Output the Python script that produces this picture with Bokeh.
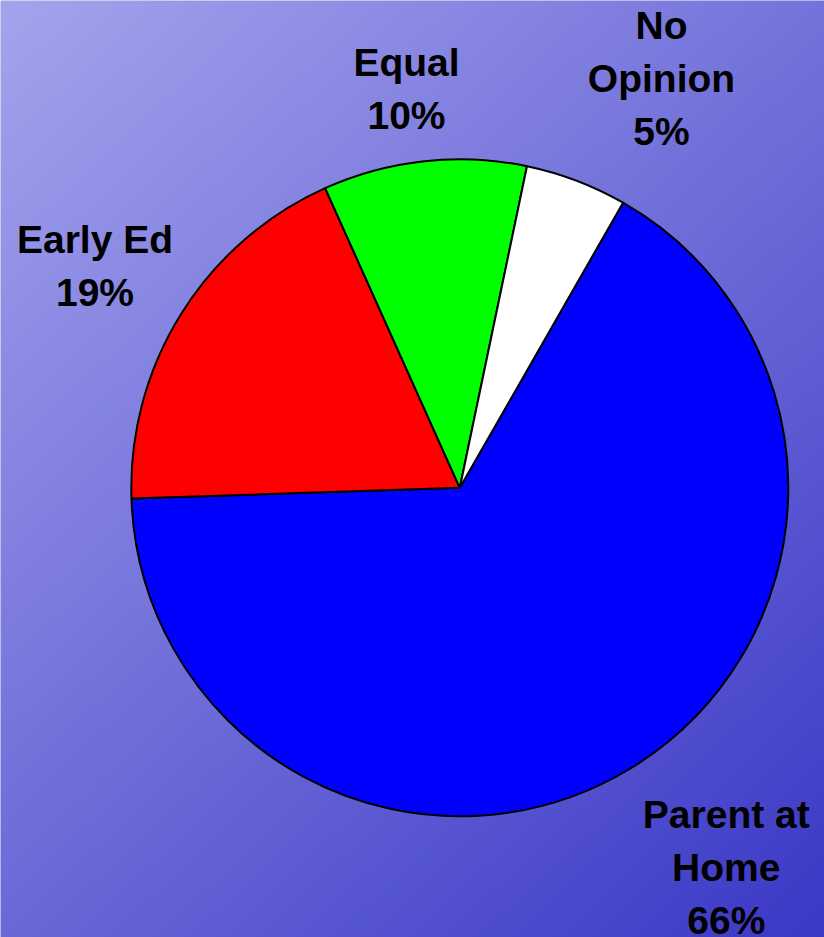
import numpy as np
from bokeh.plotting import figure
from bokeh.models import Range1d, ColumnDataSource
from bokeh.core.properties import value
from bokeh.embed import file_html
from bokeh.resources import INLINE

# ---- data ----
categories = ["Parent at\nHome", "Early Ed", "Equal", "No\nOpinion"]
shares = [66.2, 18.8, 10.0, 5.0]
slice_colors = ["#0000FF", "#FF0000", "#00FF00", "#FFFFFF"]

# ---- layout / style ----
W, H = 824, 937
CX, CY, R = 459.3, H - 487.3, 328.5
START_DEG = 60.2          # first slice starts here, slices run clockwise
FONT = "Liberation Sans"
FONT_PX = 39
LINE_SP = 53
TEXT_SHIFT = 14           # renderer baseline correction (px, upward)
# label block centres relative to pie centre (x right, y down, in px)
label_offsets = [(266.5, 393.5), (-364.8, -207.6), (-53.3, -384.8), (201.7, -395.6)]

p = figure(width=W, height=H, x_range=Range1d(0, W), y_range=Range1d(0, H),
           x_axis_type=None, y_axis_type=None, toolbar_location=None,
           output_backend="svg", min_border=0)
p.outline_line_color = None
p.grid.visible = False

# background gradient (light lavender top-left -> deep blue bottom-right)
gw, gh = W // 2, (H + 1) // 2
xs = ((np.arange(gw) + 0.5) * (W / gw)) / W
ys_data = (np.arange(gh) + 0.5) * (H / gh)
ys = (H - ys_data) / H
t = 0.45 * xs[None, :] + 0.55 * ys[:, None]
c0 = np.array([164, 164, 237], dtype=float)
c1 = np.array([58, 56, 198], dtype=float)
rgb = c0[None, None, :] + (c1 - c0)[None, None, :] * t[:, :, None]
img = np.empty((gh, gw), dtype=np.uint32)
view = img.view(dtype=np.uint8).reshape((gh, gw, 4))
view[:, :, 0] = np.clip(rgb[:, :, 0], 0, 255).astype(np.uint8)
view[:, :, 1] = np.clip(rgb[:, :, 1], 0, 255).astype(np.uint8)
view[:, :, 2] = np.clip(rgb[:, :, 2], 0, 255).astype(np.uint8)
view[:, :, 3] = 255
p.image_rgba(image=[img], x=-2, y=-2, dw=W + 4, dh=H + 4)

# pie slices
total = float(sum(shares))
frac = np.array(shares) / total
cum = np.concatenate([[0.0], np.cumsum(frac)])
start_rad = np.deg2rad(START_DEG)
ends = start_rad - cum[:-1] * 2 * np.pi
starts = start_rad - cum[1:] * 2 * np.pi
src = ColumnDataSource(dict(start=starts, end=ends, color=slice_colors))
p.wedge(x=CX, y=CY, radius=R, start_angle="start", end_angle="end",
        direction="anticlock", fill_color="color", line_color="black",
        line_width=2, source=src)

# labels, one text row per line
lx, ly, lt = [], [], []
for cat, sh, (dx, dy) in zip(categories, shares, label_offsets):
    lines = cat.split("\n") + [f"{round(sh / total * 100)}%"]
    n = len(lines)
    for i, line in enumerate(lines):
        lx.append(CX + dx)
        ly.append(CY - dy - (i - (n - 1) / 2) * LINE_SP + TEXT_SHIFT)
        lt.append(line)
p.text(x=lx, y=ly, text=lt, text_align="center", text_baseline="alphabetic",
       text_font=value(FONT), text_font_style="bold",
       text_font_size=f"{FONT_PX}px", text_color="black")

open("out.html", "w").write(file_html(p, INLINE))
